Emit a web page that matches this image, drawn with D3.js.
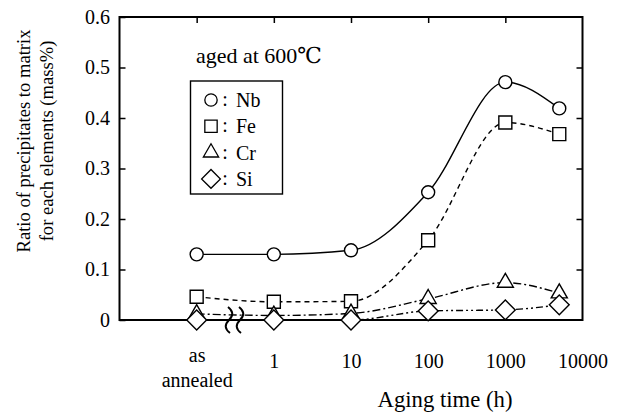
<!DOCTYPE html>
<html><head><meta charset="utf-8">
<script src="https://cdn.jsdelivr.net/npm/d3@7"></script>
<style>
html,body{margin:0;padding:0;background:#fff;}
svg{display:block;}
</style></head>
<body>
<svg id="chart" width="621" height="412"></svg>
<script>
// ---- data ----
const agingTime = [0.1, 1, 10, 100, 1000, 5000]; // 0.1 = "as annealed" position
const xTickValues = [0.1, 1, 10, 100, 1000, 10000];
const xTickLabels = ["as annealed", "1", "10", "100", "1000", "10000"];
const yTickValues = [0, 0.1, 0.2, 0.3, 0.4, 0.5, 0.6];
const nb = [0.130, 0.130, 0.138, 0.253, 0.471, 0.419];
const fe = [0.046, 0.036, 0.037, 0.158, 0.391, 0.368];
const cr = [0.012, 0.009, 0.013, 0.042, 0.074, 0.053];
const si = [0.000, 0.000, 0.000, 0.018, 0.020, 0.030];
const seriesNames = ["Nb", "Fe", "Cr", "Si"];

const FONT = "'Liberation Serif', 'DejaVu Serif', serif";
const svg = d3.select("#chart");
const L = 119.5, R = 582.5, T = 17, B = 320;
const x = d3.scaleLog().domain([0.01, 10000]).range([L, R]);
const y = d3.scaleLinear().domain([0, 0.6]).range([B, T]);

const series = [
  {name: "Nb", vals: nb, dash: null, sym: d3.symbolCircle, size: 133, rot: 0},
  {name: "Fe", vals: fe, dash: "5,4", sym: d3.symbolSquare, size: 169, rot: 0},
  {name: "Cr", vals: cr, dash: "8,3,2,3", sym: d3.symbolTriangle, size: 112, rot: 0},
  {name: "Si", vals: si, dash: "7,3,2,3,2,3", sym: d3.symbolSquare, size: 196, rot: 45}
];

// axes (inward ticks)
const fmtY = d => d === 0 ? "0" : d3.format(".1f")(d);
const gy = svg.append("g").attr("transform", `translate(${L},0)`)
  .call(d3.axisLeft(y).tickValues(yTickValues).tickSize(-6).tickPadding(9.5).tickFormat(fmtY));
gy.select(".domain").remove();
gy.selectAll(".tick line").attr("stroke-width", 1.5);

const gr = svg.append("g").attr("transform", `translate(${R},0)`)
  .call(d3.axisRight(y).tickValues(yTickValues.slice(1, 6)).tickSize(-6).tickFormat(""));
gr.select(".domain").remove();
gr.selectAll(".tick line").attr("stroke-width", 1.5);

const gt = svg.append("g").attr("transform", `translate(0,${T})`)
  .call(d3.axisTop(x).tickValues(xTickValues.slice(0, 5)).tickSize(-6).tickFormat(""));
gt.select(".domain").remove();
gt.selectAll(".tick line").attr("stroke-width", 1.5);

const gb = svg.append("g").attr("transform", `translate(0,${B})`)
  .call(d3.axisBottom(x).tickValues(xTickValues).tickSize(0).tickPadding(34)
    .tickFormat((d, i) => xTickLabels[i]));
gb.select(".domain").remove();
gb.selectAll(".tick").filter((d, i) => i === 0).select("text")
  .text(null).attr("dy", null)
  .call(t => {
    t.append("tspan").attr("x", 0).attr("y", 42).text("as");
    t.append("tspan").attr("x", 0).attr("y", 67).text("annealed");
  });

// frame
svg.append("rect").attr("x", L).attr("y", T).attr("width", R - L).attr("height", B - T)
  .attr("fill", "none").attr("stroke", "#000").attr("stroke-width", 2);

// break marks
[229, 240].forEach(cx => {
  svg.append("path")
    .attr("d", `M${cx - 1},307 Q${cx + 7},313 ${cx},320 Q${cx - 7},327 ${cx + 1},333`)
    .attr("fill", "none").attr("stroke", "#000").attr("stroke-width", 2);
});

// lines
const line = d3.line().x(d => x(d[0])).y(d => y(d[1])).curve(d3.curveMonotoneX);
series.forEach(s => {
  svg.append("path")
    .attr("d", line(agingTime.map((t, i) => [t, s.vals[i]])))
    .attr("fill", "none").attr("stroke", "#000").attr("stroke-width", 1.4)
    .attr("stroke-dasharray", s.dash);
});
// markers
series.forEach(s => {
  svg.append("g").selectAll("path").data(agingTime.map((t, i) => [t, s.vals[i]])).join("path")
    .attr("d", d3.symbol().type(s.sym).size(s.size))
    .attr("transform", d => `translate(${x(d[0])},${y(d[1])}) rotate(${s.rot})`)
    .attr("fill", "#fff").attr("stroke", "#000").attr("stroke-width", 1.4);
});

// annotation
svg.append("text").attr("class", "ann").attr("x", 196).attr("y", 63).text("aged at 600℃");

// legend
svg.append("rect").attr("x", 190.5).attr("y", 81).attr("width", 92).attr("height", 113)
  .attr("fill", "#fff").attr("stroke", "#000").attr("stroke-width", 1.4);
series.forEach((s, i) => {
  const ly = 100 + i * 26.3;
  svg.append("path").attr("d", d3.symbol().type(s.sym).size(s.size * 0.9))
    .attr("transform", `translate(211,${ly}) rotate(${s.rot})`)
    .attr("fill", "#fff").attr("stroke", "#000").attr("stroke-width", 1.3);
  svg.append("text").attr("class", "leg").attr("x", 225).attr("y", ly + 6).attr("text-anchor", "middle").text(":");
  svg.append("text").attr("class", "leg").attr("x", 236).attr("y", ly + 7).text(seriesNames[i]);
});

// axis titles
svg.append("text").attr("class", "xt").attr("x", 445).attr("y", 407).attr("text-anchor", "middle")
  .text("Aging time (h)");
const yl = svg.append("g").attr("transform", "translate(30,141) rotate(-90)");
yl.append("text").attr("class", "yt yt1").attr("text-anchor", "middle").attr("y", 0)
  .text("Ratio of precipitates to matrix");
yl.append("text").attr("class", "yt").attr("text-anchor", "middle").attr("y", 23)
  .text("for each elements (mass%)");

// fonts
svg.selectAll("g").attr("font-family", null).attr("font-size", null);
svg.selectAll("text").attr("font-family", null).style("font-family", FONT).style("fill", "#000");
svg.selectAll(".tick text").style("font-size", "20px");
svg.selectAll(".leg").style("font-size", "20px");

// size a text so that its width matches the reference width
function fitSize(sel, target) {
  sel.style("font-size", "20px");
  const w = sel.node().getComputedTextLength();
  const s = w > 0 ? Math.min(24, Math.max(14, 20 * target / w)) : 20;
  sel.style("font-size", s + "px");
  return s;
}
fitSize(svg.select(".ann"), 126);
fitSize(svg.select(".xt"), 135);
const ys = fitSize(svg.select(".yt1"), 223);
svg.selectAll(".yt").style("font-size", ys + "px");
</script>
</body></html>
